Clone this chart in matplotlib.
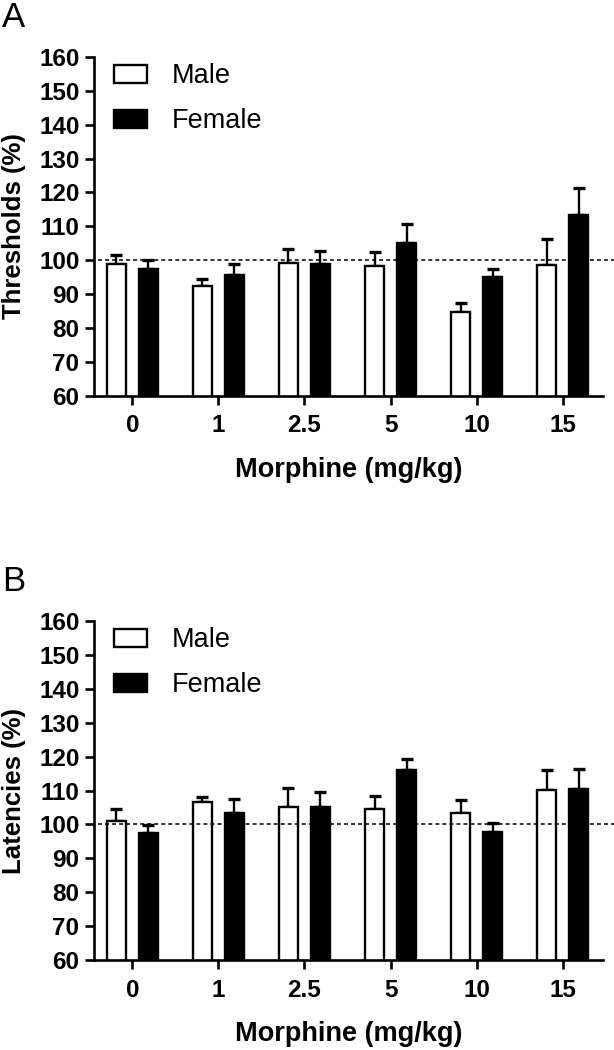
import numpy as np
import matplotlib
matplotlib.use("Agg")
import matplotlib.pyplot as plt

plt.rcParams['font.family'] = ['Liberation Sans', 'DejaVu Sans']

# Data (mean and upper SEM, % of baseline)
doses = ["0", "1", "2.5", "5", "10", "15"]

thr_male = [99.0, 92.4, 99.1, 98.4, 84.6, 98.6]
thr_male_sem = [2.5, 2.2, 4.1, 4.1, 2.8, 7.7]
thr_female = [97.4, 95.7, 99.0, 105.1, 95.1, 113.3]
thr_female_sem = [2.8, 3.2, 3.8, 5.5, 2.3, 8.1]

lat_male = [101.0, 106.5, 105.0, 104.5, 103.4, 110.1]
lat_male_sem = [3.5, 1.7, 5.7, 3.9, 3.8, 5.8]
lat_female = [97.6, 103.5, 105.0, 115.9, 97.9, 110.4]
lat_female_sem = [2.3, 4.1, 4.6, 3.4, 2.4, 5.9]

W, H = 614, 1050
fig = plt.figure(figsize=(W / 100, H / 100), dpi=100)


def px_axes(left, top, right, bottom):
    return fig.add_axes([left / W, 1 - bottom / H, (right - left) / W, (bottom - top) / H])


def draw_panel(ax, male, male_sem, female, female_sem, ylabel):
    x = np.arange(len(doses))
    off, bw = 0.186, 0.215
    ax.errorbar(x - off, male, yerr=[np.zeros(len(male)), male_sem], fmt='none',
                ecolor='black', elinewidth=1.7, capsize=4, capthick=2.4, zorder=1)
    ax.errorbar(x + off, female, yerr=[np.zeros(len(female)), female_sem], fmt='none',
                ecolor='black', elinewidth=1.7, capsize=4, capthick=2.4, zorder=1)
    ax.bar(x - off, male, width=bw, color='white', edgecolor='black',
           linewidth=1.7, label='Male', zorder=2)
    ax.bar(x + off, female, width=bw, color='black', edgecolor='black',
           linewidth=1.7, label='Female', zorder=2)

    # dashed 100% reference line, runs past the axis end
    ax.plot([-0.4, 5.62], [100, 100], color='black', lw=1.1, dashes=(2.6, 2.0),
            clip_on=False, zorder=3)

    ax.set_xlim(-0.447, 5.47)
    ax.set_ylim(60, 160)
    ax.set_yticks(np.arange(60, 161, 10))
    ax.set_xticks(x)
    ax.set_xticklabels(doses)
    for s in ['top', 'right']:
        ax.spines[s].set_visible(False)
    for s in ['left', 'bottom']:
        ax.spines[s].set_linewidth(1.9)
    ax.tick_params(axis='both', direction='out', length=6.5, width=1.9,
                   labelsize=17.5)
    ax.tick_params(axis='x', pad=7)
    ax.tick_params(axis='y', pad=4)
    for lab in ax.get_xticklabels() + ax.get_yticklabels():
        lab.set_fontweight('bold')

    ax.set_xlabel('Morphine (mg/kg)', fontsize=19.5, fontweight='bold', labelpad=14)
    ax.set_ylabel(ylabel, fontsize=18.5, fontweight='bold')
    ax.yaxis.set_label_coords(-0.1335, 0.5)

    ax.legend(loc='upper left', bbox_to_anchor=(0.040, 0.981), frameon=False,
              fontsize=19.5, handlelength=1.22, handleheight=0.63,
              handletextpad=0.89, labelspacing=0.7, borderpad=0,
              borderaxespad=0)


axA = px_axes(94, 57, 603, 395.7)
draw_panel(axA, thr_male, thr_male_sem, thr_female, thr_female_sem, 'Thresholds (%)')

axB = px_axes(94, 621, 603, 960)
draw_panel(axB, lat_male, lat_male_sem, lat_female, lat_female_sem, 'Latencies (%)')

fig.text(2 / W, 1 - 27 / H, 'A', fontsize=25, ha='left', va='baseline')
fig.text(2 / W, 1 - 591 / H, 'B', fontsize=25, ha='left', va='baseline')

fig.savefig('out.png', dpi=100)
